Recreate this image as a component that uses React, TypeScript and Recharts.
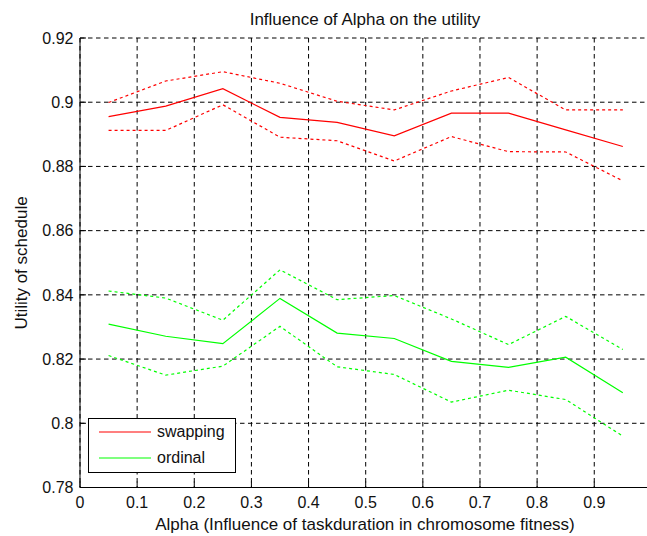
import { LineChart, Line, XAxis, YAxis, CartesianGrid, Legend } from 'recharts';

const alpha = [0.05, 0.15, 0.25, 0.35, 0.45, 0.55, 0.65, 0.75, 0.85, 0.95];

const swappingMean = [0.8955, 0.8988, 0.9042, 0.8953, 0.8937, 0.8895, 0.8966, 0.8966, 0.8914, 0.8862];
const swappingUpper = [0.8999, 0.9066, 0.9095, 0.9059, 0.9003, 0.8976, 0.9035, 0.9077, 0.8976, 0.8976];
const swappingLower = [0.8912, 0.8912, 0.8992, 0.8891, 0.8880, 0.8817, 0.8893, 0.8846, 0.8845, 0.8755];

const ordinalMean = [0.8309, 0.8271, 0.8248, 0.8389, 0.8281, 0.8264, 0.8193, 0.8174, 0.8206, 0.8095];
const ordinalUpper = [0.8412, 0.8390, 0.8321, 0.8478, 0.8385, 0.8398, 0.8325, 0.8245, 0.8333, 0.8230];
const ordinalLower = [0.8211, 0.8150, 0.8178, 0.8302, 0.8176, 0.8152, 0.8066, 0.8103, 0.8074, 0.7960];

const xTicks = [0, 0.1, 0.2, 0.3, 0.4, 0.5, 0.6, 0.7, 0.8, 0.9, 1];
const xTickLabels = ['0', '0.1', '0.2', '0.3', '0.4', '0.5', '0.6', '0.7', '0.8', '0.9', ''];
const yTicks = [0.78, 0.8, 0.82, 0.84, 0.86, 0.88, 0.9, 0.92];
const yTickLabels = ['0.78', '0.8', '0.82', '0.84', '0.86', '0.88', '0.9', '0.92'];
const legendOrder = ['swapping', 'ordinal'];

const data = alpha.map((a, i) => ({
  alpha: a,
  swapping: swappingMean[i],
  swappingHi: swappingUpper[i],
  swappingLo: swappingLower[i],
  ordinal: ordinalMean[i],
  ordinalHi: ordinalUpper[i],
  ordinalLo: ordinalLower[i],
}));

const FONT = '"Liberation Sans", Arial, Helvetica, sans-serif';
const RED = '#ff0000';
const GREEN = '#00ff00';

const tickStyle = { fill: '#111', fontSize: 16, fontFamily: FONT };

function MatlabLegend(props: any) {
  const items = (props.payload || [])
    .filter((p: any) => p.type !== 'none' && legendOrder.includes(p.value))
    .sort((a: any, b: any) => legendOrder.indexOf(a.value) - legendOrder.indexOf(b.value));
  return (
    <div
      style={{
        position: 'relative',
        width: 148,
        height: 55,
        boxSizing: 'border-box',
        border: '1px solid #000',
        background: '#fff',
        fontFamily: FONT,
        fontSize: 16,
        color: '#111',
      }}
    >
      {items.map((entry: any, i: number) => (
        <div
          key={entry.value}
          style={{ position: 'absolute', left: 0, top: 3 + i * 25.5, height: 20, display: 'flex', alignItems: 'center' }}
        >
          <svg width={52} height={20} style={{ marginLeft: 10 }}>
            <line x1={0} y1={10} x2={52} y2={10} stroke={entry.color} strokeWidth={1.2} />
          </svg>
          <span style={{ marginLeft: 6, lineHeight: '20px' }}>{entry.value}</span>
        </div>
      ))}
    </div>
  );
}

export default function App() {
  return (
    <div
      style={{
        position: 'absolute',
        left: 0,
        top: 0,
        width: 647,
        height: 536,
        overflow: 'hidden',
        background: '#fff',
      }}
    >
      <div
        style={{
          position: 'absolute',
          left: 365,
          top: 10.5,
          transform: 'translateX(-50%)',
          whiteSpace: 'nowrap',
          fontFamily: FONT,
          fontSize: 17,
          lineHeight: '17px',
          color: '#111',
        }}
      >
        Influence of Alpha on the utility
      </div>
      <div
        style={{
          position: 'absolute',
          left: 365,
          top: 515.5,
          transform: 'translateX(-50%)',
          whiteSpace: 'nowrap',
          fontFamily: FONT,
          fontSize: 17,
          lineHeight: '17px',
          color: '#111',
        }}
      >
        Alpha (Influence of taskduration in chromosome fitness)
      </div>
      <div
        style={{
          position: 'absolute',
          left: 21,
          top: 263,
          transform: 'translate(-50%, -50%) rotate(-90deg)',
          whiteSpace: 'nowrap',
          fontFamily: FONT,
          fontSize: 17,
          lineHeight: '17px',
          color: '#111',
        }}
      >
        Utility of schedule
      </div>

      <LineChart
        width={680}
        height={536}
        data={data}
        margin={{ top: 38, right: 28.6, left: 20, bottom: 18.5 }}
      >
        <CartesianGrid stroke="#000" strokeDasharray="4.5 3.5" />
        <XAxis
          dataKey="alpha"
          type="number"
          domain={[0, 1]}
          ticks={xTicks}
          interval={0}
          height={30}
          tickFormatter={(v: number) => xTickLabels[xTicks.indexOf(v)]}
          tick={tickStyle}
          tickSize={-6}
          tickMargin={14.8}
          axisLine={{ stroke: '#000' }}
          tickLine={{ stroke: '#000' }}
        />
        <XAxis
          xAxisId="top"
          orientation="top"
          dataKey="alpha"
          type="number"
          domain={[0, 1]}
          ticks={xTicks}
          interval={0}
          height={0}
          tickFormatter={() => ''}
          tickSize={-6}
          axisLine={{ stroke: '#000' }}
          tickLine={{ stroke: '#000' }}
        />
        <YAxis
          type="number"
          domain={[0.78, 0.92]}
          ticks={yTicks}
          interval={0}
          width={60}
          allowDataOverflow
          tickFormatter={(v: number) => yTickLabels[yTicks.indexOf(v)]}
          tick={tickStyle}
          tickSize={-6}
          tickMargin={12.5}
          axisLine={{ stroke: '#000' }}
          tickLine={{ stroke: '#000' }}
        />
        <Legend
          layout="horizontal"
          verticalAlign="middle"
          align="center"
          content={<MatlabLegend />}
          wrapperStyle={{ left: 88, top: 418, width: 148, height: 55 }}
        />
        <Line dataKey="swapping" name="swapping" type="linear" stroke={RED} strokeWidth={1.2} dot={false} activeDot={false} isAnimationActive={false} />
        <Line dataKey="ordinal" name="ordinal" type="linear" stroke={GREEN} strokeWidth={1.2} dot={false} activeDot={false} isAnimationActive={false} />
        <Line dataKey="swappingHi" legendType="none" type="linear" stroke={RED} strokeWidth={1.2} strokeDasharray="3 3" dot={false} activeDot={false} isAnimationActive={false} />
        <Line dataKey="swappingLo" legendType="none" type="linear" stroke={RED} strokeWidth={1.2} strokeDasharray="3 3" dot={false} activeDot={false} isAnimationActive={false} />
        <Line dataKey="ordinalHi" legendType="none" type="linear" stroke={GREEN} strokeWidth={1.2} strokeDasharray="3 3" dot={false} activeDot={false} isAnimationActive={false} />
        <Line dataKey="ordinalLo" legendType="none" type="linear" stroke={GREEN} strokeWidth={1.2} strokeDasharray="3 3" dot={false} activeDot={false} isAnimationActive={false} />
      </LineChart>
    </div>
  );
}
